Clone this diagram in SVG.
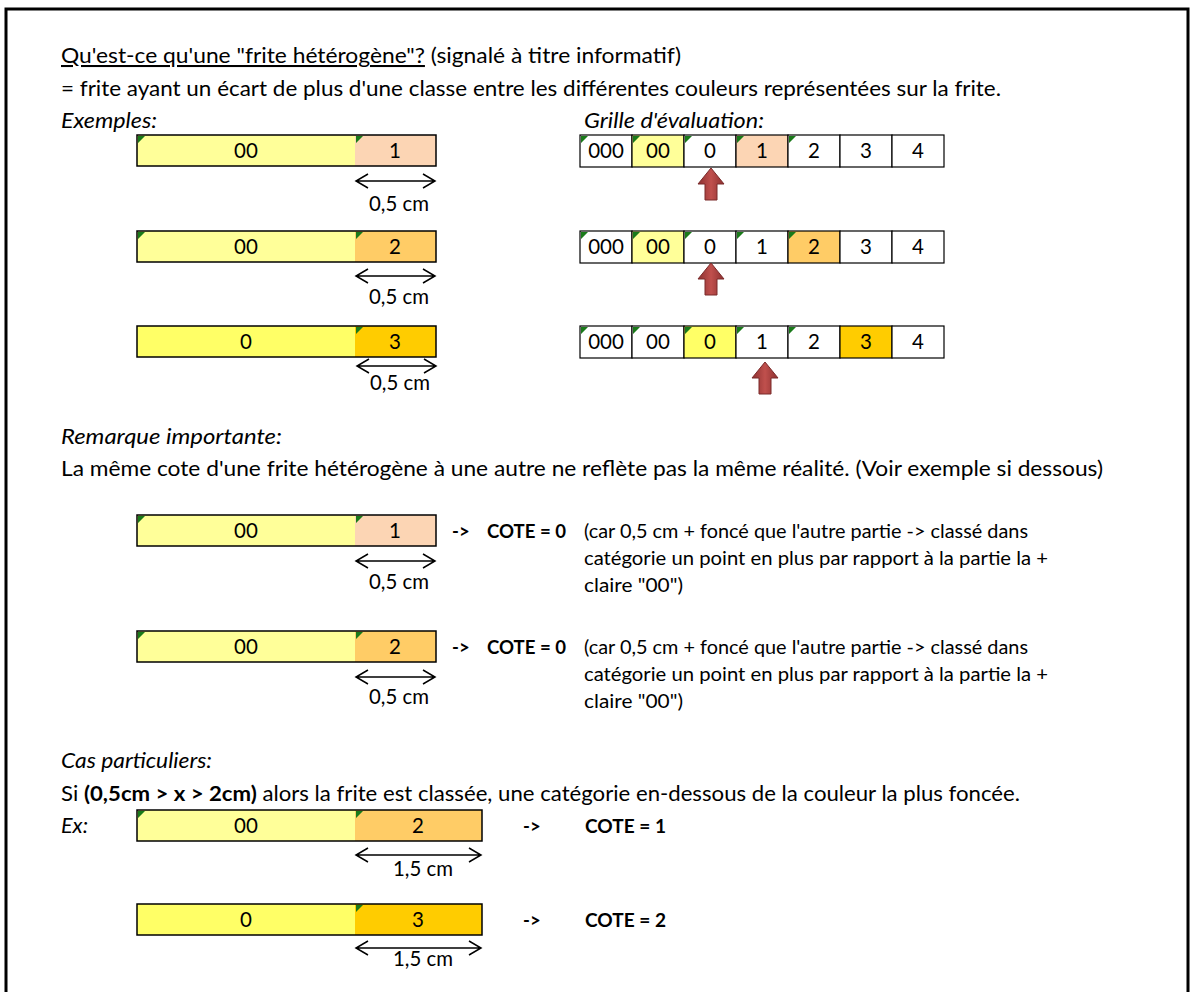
<svg xmlns="http://www.w3.org/2000/svg" width="1196" height="992" viewBox="0 0 1196 992">
<defs>
<style>
text{font-family:Lato,"Liberation Sans",sans-serif;font-size:20.5px;fill:#000}
.c{text-anchor:middle}
.i{font-style:italic}
.b{font-weight:bold}
.s{font-size:18.5px}
.k{font-weight:bold;font-size:18.5px}
.box{fill:none;stroke:#000;stroke-width:1.5}
.cell{stroke:#000;stroke-width:1.2}
.tri{fill:#1a7a1a}
.dim{fill:none;stroke:#000;stroke-width:1.5}
.up{fill:url(#rg);stroke:#7a2a2a;stroke-width:1}
</style>
<linearGradient id="rg" x1="0" y1="0" x2="1" y2="0">
<stop offset="0" stop-color="#8c3030"/><stop offset="0.5" stop-color="#c0504d"/><stop offset="1" stop-color="#8c3030"/>
</linearGradient>
</defs>
<rect width="1196" height="992" fill="#fff"/>
<path d="M6,992 V9 H1188 V992" fill="none" stroke="#000" stroke-width="3"/>

<g id="intro">
<text x="61" y="63" textLength="620" lengthAdjust="spacingAndGlyphs"><tspan text-decoration="underline">Qu'est-ce qu'une "frite hétérogène"?</tspan> (signalé à titre informatif)</text>
<text x="61" y="96" textLength="940" lengthAdjust="spacingAndGlyphs">= frite ayant un écart de plus d'une classe entre les différentes couleurs représentées sur la frite.</text>
<text x="61" y="128" class="i" textLength="96" lengthAdjust="spacingAndGlyphs">Exemples:</text>
<text x="584" y="128" class="i" textLength="180" lengthAdjust="spacingAndGlyphs">Grille d'évaluation:</text>
</g>

<g id="bar-ex1">
<rect x="137" y="135" width="218" height="31" fill="#FFFF99"/><rect x="355" y="135" width="81" height="31" fill="#FCD5B4"/>
<rect x="137" y="135" width="299" height="31" class="box"/>
<path class="tri" d="M138,136h7l-7,7z M356,136h7l-7,7z"/>
<text x="246" y="158" class="c">00</text><text x="395" y="158" class="c">1</text>
<text x="399" y="211" class="c" textLength="60" lengthAdjust="spacingAndGlyphs">0,5 cm</text>
</g>
<g id="bar-ex2">
<rect x="137" y="231" width="218" height="31" fill="#FFFF99"/><rect x="355" y="231" width="81" height="31" fill="#FFCC66"/>
<rect x="137" y="231" width="299" height="31" class="box"/>
<path class="tri" d="M138,232h7l-7,7z M356,232h7l-7,7z"/>
<text x="246" y="254" class="c">00</text><text x="395" y="254" class="c">2</text>
<text x="399" y="304" class="c" textLength="60" lengthAdjust="spacingAndGlyphs">0,5 cm</text>
</g>
<g id="bar-ex3">
<rect x="137" y="326" width="218" height="31" fill="#FFFF66"/><rect x="355" y="326" width="81" height="31" fill="#FFCC00"/>
<rect x="137" y="326" width="299" height="31" class="box"/>
<path class="tri" d="M356,327h7l-7,7z"/>
<text x="246" y="349" class="c">0</text><text x="395" y="349" class="c">3</text>
<text x="400" y="390" class="c" textLength="60" lengthAdjust="spacingAndGlyphs">0,5 cm</text>
</g>

<g id="grid-1">
<rect x="580" y="135" width="52" height="32" fill="#fff" class="cell"/>
<rect x="632" y="135" width="52" height="32" fill="#FFFF99" class="cell"/>
<rect x="684" y="135" width="52" height="32" fill="#fff" class="cell"/>
<rect x="736" y="135" width="52" height="32" fill="#FCD5B4" class="cell"/>
<rect x="788" y="135" width="52" height="32" fill="#fff" class="cell"/>
<rect x="840" y="135" width="52" height="32" fill="#fff" class="cell"/>
<rect x="892" y="135" width="52" height="32" fill="#fff" class="cell"/>
<path class="tri" d="M581,136h7l-7,7z M633,136h7l-7,7z M685,136h7l-7,7z M737,136h7l-7,7z M789,136h7l-7,7z"/>
<text x="606" y="158" class="c">000</text><text x="658" y="158" class="c">00</text><text x="710" y="158" class="c">0</text><text x="762" y="158" class="c">1</text><text x="814" y="158" class="c">2</text><text x="866" y="158" class="c">3</text><text x="918" y="158" class="c">4</text>
</g>
<g id="grid-2">
<rect x="580" y="231" width="52" height="32" fill="#fff" class="cell"/>
<rect x="632" y="231" width="52" height="32" fill="#FFFF99" class="cell"/>
<rect x="684" y="231" width="52" height="32" fill="#fff" class="cell"/>
<rect x="736" y="231" width="52" height="32" fill="#fff" class="cell"/>
<rect x="788" y="231" width="52" height="32" fill="#FFCC66" class="cell"/>
<rect x="840" y="231" width="52" height="32" fill="#fff" class="cell"/>
<rect x="892" y="231" width="52" height="32" fill="#fff" class="cell"/>
<path class="tri" d="M581,232h7l-7,7z M633,232h7l-7,7z M685,232h7l-7,7z M737,232h7l-7,7z M789,232h7l-7,7z"/>
<text x="606" y="254" class="c">000</text><text x="658" y="254" class="c">00</text><text x="710" y="254" class="c">0</text><text x="762" y="254" class="c">1</text><text x="814" y="254" class="c">2</text><text x="866" y="254" class="c">3</text><text x="918" y="254" class="c">4</text>
</g>
<g id="grid-3">
<rect x="580" y="326" width="52" height="32" fill="#fff" class="cell"/>
<rect x="632" y="326" width="52" height="32" fill="#fff" class="cell"/>
<rect x="684" y="326" width="52" height="32" fill="#FFFF66" class="cell"/>
<rect x="736" y="326" width="52" height="32" fill="#fff" class="cell"/>
<rect x="788" y="326" width="52" height="32" fill="#fff" class="cell"/>
<rect x="840" y="326" width="52" height="32" fill="#FFCC00" class="cell"/>
<rect x="892" y="326" width="52" height="32" fill="#fff" class="cell"/>
<path class="tri" d="M581,327h7l-7,7z M633,327h7l-7,7z M685,327h7l-7,7z M737,327h7l-7,7z M789,327h7l-7,7z"/>
<text x="606" y="349" class="c">000</text><text x="658" y="349" class="c">00</text><text x="710" y="349" class="c">0</text><text x="762" y="349" class="c">1</text><text x="814" y="349" class="c">2</text><text x="866" y="349" class="c">3</text><text x="918" y="349" class="c">4</text>
</g>

<g id="remarque">
<text x="61" y="444" class="i" textLength="221" lengthAdjust="spacingAndGlyphs">Remarque importante:</text>
<text x="61" y="476" textLength="1042" lengthAdjust="spacingAndGlyphs">La même cote d'une frite hétérogène à une autre ne reflète pas la même réalité. (Voir exemple si dessous)</text>
</g>

<g id="bar-rem1">
<rect x="137" y="515" width="218" height="31" fill="#FFFF99"/><rect x="355" y="515" width="81" height="31" fill="#FCD5B4"/>
<rect x="137" y="515" width="299" height="31" class="box"/>
<path class="tri" d="M138,516h7l-7,7z M356,516h7l-7,7z"/>
<text x="246" y="538" class="c">00</text><text x="395" y="538" class="c">1</text>
<text x="399" y="589" class="c" textLength="60" lengthAdjust="spacingAndGlyphs">0,5 cm</text>
<text x="452" y="538" class="k">-&gt;</text>
<text x="487" y="538" class="k" textLength="79" lengthAdjust="spacingAndGlyphs">COTE = 0</text>
<text x="584" y="538" class="s" textLength="444" lengthAdjust="spacingAndGlyphs">(car 0,5 cm + foncé que l'autre partie -&gt; classé dans</text>
<text x="584" y="565" class="s" textLength="464" lengthAdjust="spacingAndGlyphs">catégorie un point en plus par rapport à la partie la +</text>
<text x="584" y="592" class="s" textLength="99" lengthAdjust="spacingAndGlyphs">claire "00")</text>
</g>
<g id="bar-rem2">
<rect x="137" y="631" width="218" height="31" fill="#FFFF99"/><rect x="355" y="631" width="81" height="31" fill="#FFCC66"/>
<rect x="137" y="631" width="299" height="31" class="box"/>
<path class="tri" d="M138,632h7l-7,7z M356,632h7l-7,7z"/>
<text x="246" y="654" class="c">00</text><text x="395" y="654" class="c">2</text>
<text x="399" y="704" class="c" textLength="60" lengthAdjust="spacingAndGlyphs">0,5 cm</text>
<text x="452" y="654" class="k">-&gt;</text>
<text x="487" y="654" class="k" textLength="79" lengthAdjust="spacingAndGlyphs">COTE = 0</text>
<text x="584" y="654" class="s" textLength="444" lengthAdjust="spacingAndGlyphs">(car 0,5 cm + foncé que l'autre partie -&gt; classé dans</text>
<text x="584" y="681" class="s" textLength="464" lengthAdjust="spacingAndGlyphs">catégorie un point en plus par rapport à la partie la +</text>
<text x="584" y="708" class="s" textLength="99" lengthAdjust="spacingAndGlyphs">claire "00")</text>
</g>

<g id="cas">
<text x="61" y="768" class="i" textLength="151" lengthAdjust="spacingAndGlyphs">Cas particuliers:</text>
<text x="61" y="801" textLength="959" lengthAdjust="spacingAndGlyphs">Si <tspan class="b">(0,5cm &gt; x &gt; 2cm)</tspan> alors la frite est classée, une catégorie en-dessous de la couleur la plus foncée.</text>
<text x="61" y="833" class="i" textLength="27" lengthAdjust="spacingAndGlyphs">Ex:</text>
</g>
<g id="bar-cas1">
<rect x="137" y="810" width="218" height="31" fill="#FFFF99"/><rect x="355" y="810" width="127" height="31" fill="#FFCC66"/>
<rect x="137" y="810" width="345" height="31" class="box"/>
<path class="tri" d="M138,811h7l-7,7z M356,811h7l-7,7z"/>
<text x="246" y="833" class="c">00</text><text x="418" y="833" class="c">2</text>
<text x="423" y="876" class="c" textLength="60" lengthAdjust="spacingAndGlyphs">1,5 cm</text>
<text x="523" y="833" class="k">-&gt;</text>
<text x="585" y="833" class="k" textLength="81" lengthAdjust="spacingAndGlyphs">COTE = 1</text>
</g>
<g id="bar-cas2">
<rect x="137" y="904" width="218" height="31" fill="#FFFF66"/><rect x="355" y="904" width="127" height="31" fill="#FFCC00"/>
<rect x="137" y="904" width="345" height="31" class="box"/>
<path class="tri" d="M356,905h7l-7,7z"/>
<text x="246" y="927" class="c">0</text><text x="418" y="927" class="c">3</text>
<text x="423" y="966" class="c" textLength="60" lengthAdjust="spacingAndGlyphs">1,5 cm</text>
<text x="523" y="927" class="k">-&gt;</text>
<text x="585" y="927" class="k" textLength="81" lengthAdjust="spacingAndGlyphs">COTE = 2</text>
</g>

<g id="connectors">
<path class="dim" d="M356,181H435 M368,174l-12,7l12,7 M423,174l12,7l-12,7"/>
<path class="dim" d="M356,276H435 M368,269l-12,7l12,7 M423,269l12,7l-12,7"/>
<path class="dim" d="M357,366H436 M369,359l-12,7l12,7 M424,359l12,7l-12,7"/>
<path class="dim" d="M356,561H435 M368,554l-12,7l12,7 M423,554l12,7l-12,7"/>
<path class="dim" d="M356,677H435 M368,670l-12,7l12,7 M423,670l12,7l-12,7"/>
<path class="dim" d="M356,855H481 M368,848l-12,7l12,7 M469,848l12,7l-12,7"/>
<path class="dim" d="M356,948H481 M368,941l-12,7l12,7 M469,941l12,7l-12,7"/>
<polygon class="up" points="711,168 724,184 717,184 717,200 705,200 705,184 698,184"/>
<polygon class="up" points="711,263 724,279 717,279 717,295 705,295 705,279 698,279"/>
<polygon class="up" points="765,362 778,378 771,378 771,394 759,394 759,378 752,378"/>
</g>
</svg>
